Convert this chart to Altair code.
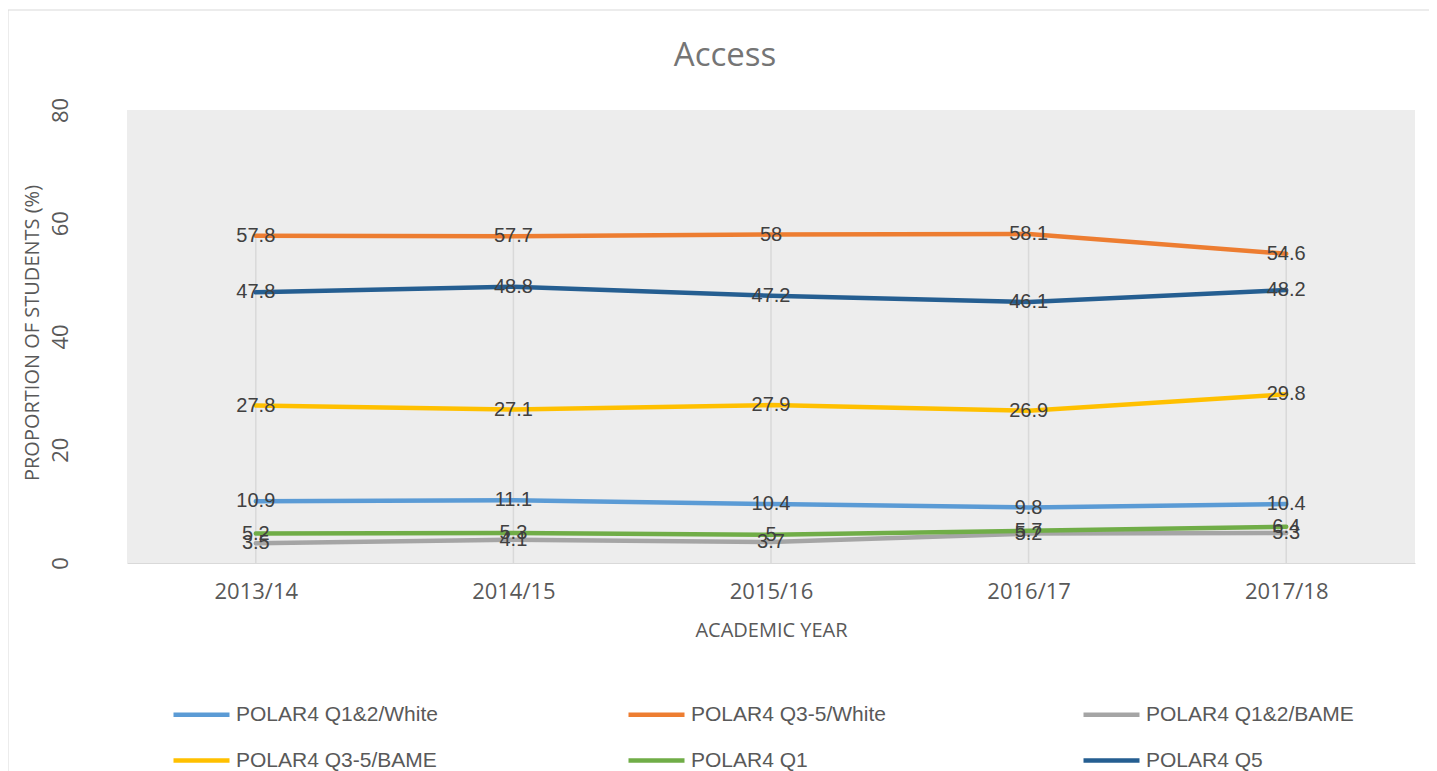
import altair as alt
import pandas as pd

years = ["2013/14", "2014/15", "2015/16", "2016/17", "2017/18"]
series = ["POLAR4 Q1&2/White", "POLAR4 Q3-5/White", "POLAR4 Q1&2/BAME",
          "POLAR4 Q3-5/BAME", "POLAR4 Q1", "POLAR4 Q5"]
q12_white = [10.9, 11.1, 10.4, 9.8, 10.4]
q35_white = [57.8, 57.7, 58.0, 58.1, 54.6]
q12_bame = [3.5, 4.1, 3.7, 5.2, 5.3]
q35_bame = [27.8, 27.1, 27.9, 26.9, 29.8]
q1 = [5.2, 5.3, 5.0, 5.7, 6.4]
q5 = [47.8, 48.8, 47.2, 46.1, 48.2]
colors = ["#5B9BD5", "#ED7D31", "#A5A5A5", "#FFC000", "#70AD47", "#255E91"]
y_ticks = [0, 20, 40, 60, 80]
chart_title = "Access"

values = [q12_white, q35_white, q12_bame, q35_bame, q1, q5]
rows = []
for s_i, (name, vals) in enumerate(zip(series, values)):
    for y, v in zip(years, vals):
        rows.append({"series": name, "order": s_i, "year": y, "value": v,
                     "label": f"{v:g}"})
df = pd.DataFrame(rows)
drop = df.groupby("year", as_index=False)["value"].max()

W, H = 1288, 453
LBL_FONT = "Liberation Sans"
AX_FONT = "Open Sans"

xscale = alt.Scale(type="point", domain=years, padding=0.5)
yscale = alt.Scale(domain=[0, 80], nice=False)

base = alt.Chart(df)

droplines = alt.Chart(drop).mark_rule(color="#D9D9D9", strokeWidth=1.5).encode(
    x=alt.X("year:N", scale=xscale),
    y=alt.Y("value:Q", scale=yscale),
    y2=alt.datum(0),
)

lines = base.mark_line(strokeWidth=4.5, strokeCap="round", strokeJoin="round").encode(
    x=alt.X("year:N", scale=xscale,
            axis=alt.Axis(title="ACADEMIC YEAR", labelAngle=0, labelAlign="center",
                          domain=True, domainColor="#D9D9D9", domainWidth=1,
                          ticks=False, grid=False, labelFont=AX_FONT,
                          labelFontSize=22, labelColor="#595959", labelPadding=18,
                          labelBaseline="top",
                          titleFont=AX_FONT, titleFontSize=20,
                          titleFontWeight="normal", titleColor="#595959",
                          titleY=67, titleBaseline="middle")),
    y=alt.Y("value:Q", scale=yscale,
            axis=alt.Axis(title="PROPORTION OF STUDENTS (%)", values=y_ticks,
                          domain=False, ticks=False, grid=False,
                          labelAngle=270, labelAlign="center",
                          labelBaseline="bottom", labelPadding=55,
                          labelFont=AX_FONT, labelFontSize=22,
                          labelColor="#595959",
                          titleFont=AX_FONT, titleFontSize=20,
                          titleFontWeight="normal", titleColor="#595959",
                          titleAngle=270, titleX=-95, titleY=H / 2 - 4,
                          titleBaseline="middle", titleAlign="center")),
    color=alt.Color("series:N", scale=alt.Scale(domain=series, range=colors),
                    legend=alt.Legend(title=None, orient="none", legendX=64,
                                      legendY=594, columns=3, direction="horizontal",
                                      symbolType="M-4,0H4", symbolSize=196,
                                      symbolStrokeWidth=4.5, labelFont=LBL_FONT,
                                      labelFontSize=21, labelColor="#595959",
                                      labelOffset=24, gridAlign="all",
                                      columnPadding=175, rowPadding=24,
                                      padding=0, labelLimit=400)),
    order=alt.Order("order:Q"),
    detail="series:N",
)

labels = base.mark_text(font=LBL_FONT, fontSize=20, color="#404040",
                        baseline="middle", align="center").encode(
    x=alt.X("year:N", scale=xscale),
    y=alt.Y("value:Q", scale=yscale),
    text="label:N",
)

deco = pd.DataFrame({"title": [chart_title]})
border = alt.Chart(deco).mark_rect(
    fill="transparent", stroke="#D9D9D9", strokeWidth=1).encode(
    x=alt.value(-119), x2=alt.value(W + 30),
    y=alt.value(-100), y2=alt.value(H + 240),
)
title = alt.Chart(deco).mark_text(font=AX_FONT, fontSize=33, color="#757575",
                                  baseline="middle", align="center").encode(
    x=alt.value(W / 2 - 46), y=alt.value(-54), text="title:N",
)

chart = alt.layer(border, title, droplines, lines, labels).properties(
    width=W, height=H,
    autosize=alt.AutoSizeParams(type="none"),
    padding={"left": 119, "top": 102, "right": 14, "bottom": 210},
    background="white",
).configure_view(stroke=None, fill="#EDEDED")

chart.save("out.html", embed_options={"renderer": "svg", "actions": False})
